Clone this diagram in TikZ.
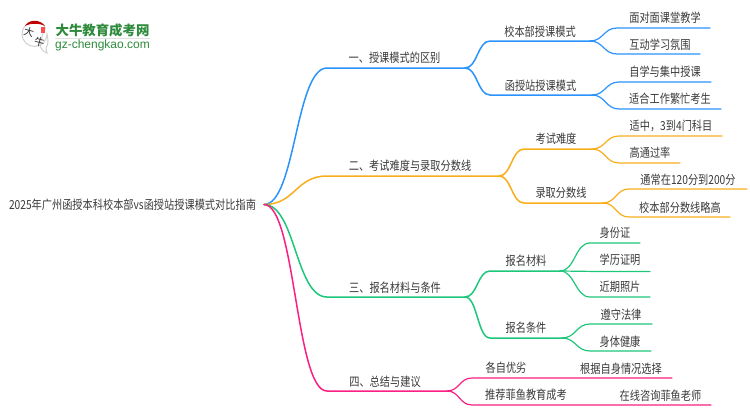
\documentclass[tikz,border=0pt]{standalone}
\usepackage{fontspec}
\setmainfont{Noto Sans CJK SC}
\newfontfamily\latinfont{Liberation Sans}
\usetikzlibrary{calc}
\definecolor{cblue}{HTML}{2A93FC}
\definecolor{corange}{HTML}{F9AE1C}
\definecolor{cgreen}{HTML}{1CC77A}
\definecolor{cpink}{HTML}{FB1F82}
\definecolor{ctext}{HTML}{3A3A3A}
\definecolor{clogo}{HTML}{2E8B3C}
\tikzset{
  lbl/.style={inner sep=0pt,outer sep=0pt,text=ctext,font=\fontsize{10.2pt}{11pt}\selectfont,anchor=center,yscale=1.22,transform shape},
  trunk/.style={line width=1.5pt,line cap=round},
  twig/.style={line width=1.2pt,line cap=round},
}
\newcommand{\sbranch}[4]{% style, from, curve end, line end
  \coordinate (mid) at ($(#2)!0.5!(#3)$);
  \draw[#1] (#2) .. controls (mid |- #2) and (mid |- #3) .. (#3) -- (#4);}
\begin{document}
\begin{tikzpicture}[x=1pt,y=-1pt]
\useasboundingbox (0,0) rectangle (750,410);
\fill[white] (0,0) rectangle (750,410);
% logo
\draw[black!18,line width=1pt,fill=white] (46,48) .. controls (49,44) and (48,38) .. (47,34)
  arc[start angle=0,end angle=330,radius=12.5] .. controls (36,50) and (42,50) .. (47,53) -- cycle;
\fill[red!75!black] (25,26) .. controls (29,19) and (40,19) .. (45,26) .. controls (40,23) and (30,23) .. (25,26) -- cycle;
\fill[red!70!white] (41,27) rectangle (45,33);
\node[inner sep=0pt,rotate=-15,font=\fontsize{10pt}{10pt}\selectfont,text=black!85] (logoa) at (29,32) {大};
\node[inner sep=0pt,rotate=-15,font=\fontsize{10pt}{10pt}\selectfont,text=black!85] (logob) at (39.5,42) {牛};
\node[inner sep=0pt,font=\fontsize{13.4pt}{14pt}\selectfont\bfseries,text=clogo] (logot) at (102.5,30) {大牛教育成考网};
\fill[black!12] (55,38) rectangle (150,39);
\node[inner sep=0pt,font=\fontsize{12pt}{13pt}\selectfont\latinfont,text=clogo] (logou) at (102.5,45) {gz-chengkao.com};
% root
\node[lbl] (root) at (132.5,205) {2025年广州函授本科校本部vs函授站授课模式对比指南};
\coordinate (r) at (264,204.5);
% level 1 junctions
\coordinate (a0) at (327,68);  \coordinate (a) at (465,68);
\coordinate (b0) at (327,176); \coordinate (b) at (499,176);
\coordinate (c0) at (327,297); \coordinate (c) at (465,297);
\coordinate (d0) at (327,391); \coordinate (d) at (447,391);
\sbranch{trunk,cblue}{r}{a0}{a}
\sbranch{trunk,corange}{r}{b0}{b}
\sbranch{trunk,cgreen}{r}{c0}{c}
\sbranch{trunk,cpink}{r}{d0}{d}
% level 2
\coordinate (a1s) at (490,41);  \coordinate (a1) at (590,41);
\coordinate (a2s) at (490,95);  \coordinate (a2) at (592,95);
\coordinate (b1s) at (524,149); \coordinate (b1) at (592,149);
\coordinate (b2s) at (524,203); \coordinate (b2) at (603,203);
\coordinate (c1s) at (490,271); \coordinate (c1) at (560,271);
\coordinate (c2s) at (490,338); \coordinate (c2) at (562,338);
\coordinate (d1s) at (472,378); \coordinate (d1) at (672,378);
\coordinate (d2s) at (472,405); \coordinate (d2) at (711,405);
\sbranch{trunk,cblue}{a}{a1s}{a1}
\sbranch{trunk,cblue}{a}{a2s}{a2}
\sbranch{trunk,corange}{b}{b1s}{b1}
\sbranch{trunk,corange}{b}{b2s}{b2}
\sbranch{trunk,cgreen}{c}{c1s}{c1}
\sbranch{trunk,cgreen}{c}{c2s}{c2}
\sbranch{twig,cpink}{d}{d1s}{d1}
\sbranch{twig,cpink}{d}{d2s}{d2}
% level 3
\coordinate (l1s) at (617,28);  \coordinate (l1) at (710,28);
\coordinate (l2s) at (617,54);  \coordinate (l2) at (700,54);
\coordinate (l3s) at (619,82);  \coordinate (l3) at (711,82);
\coordinate (l4s) at (619,109); \coordinate (l4) at (721,109);
\coordinate (l5s) at (619,136); \coordinate (l5) at (722,136);
\coordinate (l6s) at (619,163); \coordinate (l6) at (680,163);
\coordinate (l7s) at (629,189); \coordinate (l7) at (747,189);
\coordinate (l8s) at (629,217); \coordinate (l8) at (730,217);
\coordinate (l9s) at (590,243); \coordinate (l9) at (640,243);
\coordinate (l10s) at (590,271.4); \coordinate (l10) at (650,271.4);
\coordinate (l11s) at (590,297); \coordinate (l11) at (650,297);
\coordinate (l12s) at (590,324); \coordinate (l12) at (652,324);
\coordinate (l13s) at (590,351); \coordinate (l13) at (651,351);
\sbranch{twig,cblue}{a1}{l1s}{l1}
\sbranch{twig,cblue}{a1}{l2s}{l2}
\sbranch{twig,cblue}{a2}{l3s}{l3}
\sbranch{twig,cblue}{a2}{l4s}{l4}
\sbranch{twig,corange}{b1}{l5s}{l5}
\sbranch{twig,corange}{b1}{l6s}{l6}
\sbranch{twig,corange}{b2}{l7s}{l7}
\sbranch{twig,corange}{b2}{l8s}{l8}
\sbranch{twig,cgreen}{c1}{l9s}{l9}
\sbranch{twig,cgreen}{c1}{l10s}{l10}
\sbranch{twig,cgreen}{c1}{l11s}{l11}
\sbranch{twig,cgreen}{c2}{l12s}{l12}
\sbranch{twig,cgreen}{c2}{l13s}{l13}
% labels level 1
\node[lbl] (ta) at (394.5,58) {一、授课模式的区别};
\node[lbl] (tb) at (410,166) {二、考试难度与录取分数线};
\node[lbl] (tc) at (395,288) {三、报名材料与条件};
\node[lbl] (td) at (385,382) {四、总结与建议};
% labels level 2
\node[lbl] (ta1) at (540,32) {校本部授课模式};
\node[lbl] (ta2) at (540.5,86) {函授站授课模式};
\node[lbl] (tb1) at (556,139) {考试难度};
\node[lbl] (tb2) at (561,193) {录取分数线};
\node[lbl] (tc1) at (526,261) {报名材料};
\node[lbl] (tc2) at (526,328) {报名条件};
\node[lbl] (td1) at (506,368) {各自优劣};
\node[lbl] (td2) at (526,395) {推荐菲鱼教育成考};
% labels level 3
\node[lbl] (t1) at (665,18) {面对面课堂教学};
\node[lbl] (t2) at (660,45) {互动学习氛围};
\node[lbl] (t3) at (665,72) {自学与集中授课};
\node[lbl] (t4) at (670,99) {适合工作繁忙考生};
\node[lbl] (t5) at (671,126) {适中，3到4门科目};
\node[lbl] (t6) at (650,153) {高通过率};
\node[lbl] (t7) at (688,180) {通常在120分到200分};
\node[lbl] (t8) at (680,208) {校本部分数线略高};
\node[lbl] (t9) at (615,233) {身份证};
\node[lbl] (t10) at (620,260) {学历证明};
\node[lbl] (t11) at (620,287) {近期照片};
\node[lbl] (t12) at (621,315) {遵守法律};
\node[lbl] (t13) at (620,342) {身体健康};
\node[lbl] (t14) at (621,369) {根据自身情况选择};
\node[lbl] (t15) at (660.5,396) {在线咨询菲鱼老师};
\end{tikzpicture}
\end{document}
